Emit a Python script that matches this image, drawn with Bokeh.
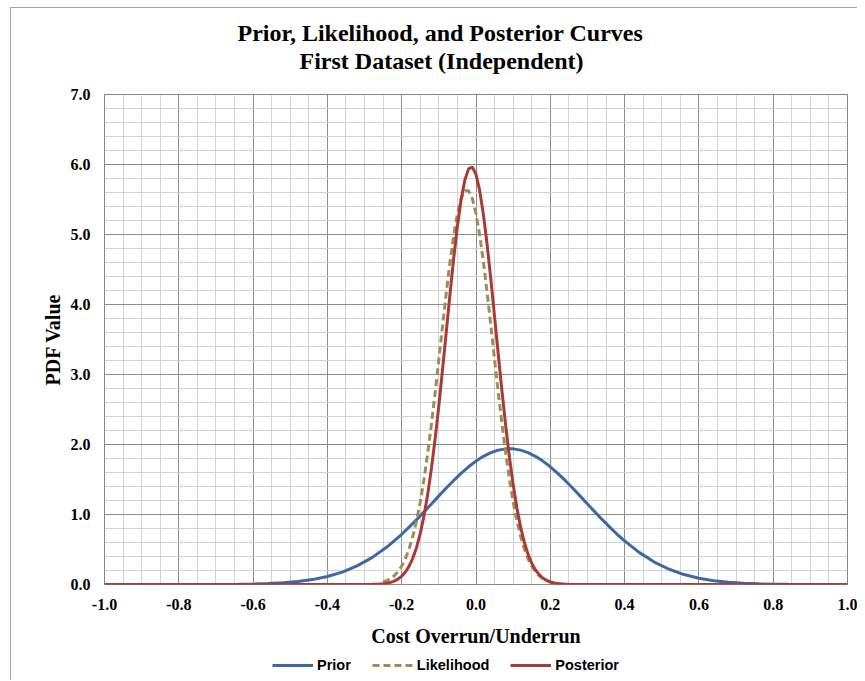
from bokeh.plotting import figure
from bokeh.layouts import column
from bokeh.models import (Range1d, FixedTicker, Legend, LegendItem, Title,
                          CustomJSTickFormatter)
from bokeh.embed import file_html
from bokeh.resources import INLINE
import numpy as np

# ---------------- data ----------------
prior_x = [-1.00, -0.96, -0.92, -0.88, -0.84, -0.80, -0.76, -0.72, -0.68, -0.64,
           -0.60, -0.56, -0.52, -0.48, -0.44, -0.40, -0.36, -0.32, -0.28, -0.24,
           -0.20, -0.18, -0.16, -0.14, -0.12, -0.10, -0.08, -0.06, -0.04, -0.02,
           0.00, 0.02, 0.04, 0.06, 0.08, 0.09, 0.10, 0.12, 0.14, 0.16, 0.18,
           0.20, 0.22, 0.24, 0.26, 0.28, 0.30, 0.32, 0.34, 0.36, 0.38,
           0.40, 0.44, 0.48, 0.52, 0.56,
           0.60, 0.64, 0.68, 0.72, 0.76, 0.80, 0.84, 0.88, 0.92, 0.96, 1.00]
prior_y = [0.0000, 0.0000, 0.0000, 0.0000, 0.0001, 0.0002, 0.0004, 0.0008, 0.0017, 0.0036,
           0.0069, 0.0131, 0.0238, 0.0416, 0.0699, 0.1134, 0.1769, 0.2658, 0.3843, 0.5351,
           0.7174, 0.8191, 0.9262, 1.0377, 1.1514, 1.2659, 1.3782, 1.4866, 1.5885, 1.6814,
           1.7627, 1.8308, 1.8835, 1.9194, 1.9377, 1.9400, 1.9377, 1.9194, 1.8835, 1.8308, 1.7627,
           1.6814, 1.5885, 1.4866, 1.3782, 1.2659, 1.1514, 1.0377, 0.9262, 0.8191, 0.7174,
           0.6225, 0.4555, 0.3209, 0.2177, 0.1422,
           0.0895, 0.0542, 0.0316, 0.0177, 0.0096, 0.0050, 0.0025, 0.0012, 0.0006, 0.0003, 0.0001]

likelihood_x = [-0.25, -0.24, -0.23, -0.22, -0.21, -0.20, -0.19, -0.18, -0.17, -0.16,
                -0.15, -0.14, -0.13, -0.12, -0.11, -0.10, -0.09, -0.08, -0.07, -0.06,
                -0.05, -0.04, -0.03, -0.02, -0.01, 0.00, 0.01, 0.02, 0.03, 0.04,
                0.05, 0.06, 0.07, 0.08, 0.09, 0.10, 0.11, 0.12, 0.13, 0.14,
                0.15, 0.16, 0.17, 0.18, 0.19, 0.20, 0.21, 0.22, 0.23, 0.24, 0.25]
likelihood_y = [0.0357, 0.0555, 0.0844, 0.1259, 0.1840, 0.2638, 0.3706, 0.5104, 0.6890, 0.9117,
                1.1822, 1.5029, 1.8730, 2.2872, 2.7381, 3.2137, 3.6965, 4.1680, 4.6062, 4.9897,
                5.2982, 5.5148, 5.6259, 5.6259, 5.5148, 5.2982, 4.9897, 4.6062, 4.1680, 3.6965,
                3.2137, 2.7381, 2.2872, 1.8730, 1.5029, 1.1822, 0.9117, 0.6890, 0.5104, 0.3706,
                0.2638, 0.1840, 0.1259, 0.0844, 0.0555, 0.0357, 0.0226, 0.0139, 0.0085, 0.0050, 0.0029]

posterior_x = [-1.00, -0.30, -0.29, -0.28, -0.27, -0.26, -0.25, -0.24, -0.23, -0.22, -0.21,
               -0.20, -0.19, -0.18, -0.17, -0.16, -0.15, -0.14, -0.13, -0.12, -0.11,
               -0.10, -0.09, -0.08, -0.07, -0.06, -0.05, -0.04, -0.03, -0.02, -0.01,
               0.00, 0.01, 0.02, 0.03, 0.04, 0.05, 0.06, 0.07, 0.08, 0.09,
               0.10, 0.11, 0.12, 0.13, 0.14, 0.15, 0.16, 0.17, 0.18, 0.19,
               0.20, 0.21, 0.22, 0.23, 0.24, 0.25, 0.26, 0.27, 0.28, 0.29, 0.30, 1.00]
posterior_y = [0.0000, 0.0006, 0.0011, 0.0020, 0.0036, 0.0064, 0.0110, 0.0185, 0.0305, 0.0491, 0.0772,
               0.1188, 0.1785, 0.2623, 0.3771, 0.5302, 0.7290, 0.9797, 1.2877, 1.6549, 2.0805,
               2.5564, 3.0722, 3.6101, 4.1480, 4.6608, 5.1211, 5.5020, 5.7796, 5.9372, 5.9640,
               5.8583, 5.6261, 5.2840, 4.8530, 4.3581, 3.8268, 3.2859, 2.7587, 2.2650, 1.8185,
               1.4274, 1.0961, 0.8227, 0.6036, 0.4334, 0.3041, 0.2087, 0.1401, 0.0919, 0.0590,
               0.0370, 0.0227, 0.0136, 0.0080, 0.0046, 0.0026, 0.0014, 0.0008, 0.0004, 0.0002, 0.0001, 0.0000]

x_ticks = [-1.0, -0.8, -0.6, -0.4, -0.2, 0.0, 0.2, 0.4, 0.6, 0.8, 1.0]
y_ticks = [0, 1, 2, 3, 4, 5, 6, 7]
title_line1 = "Prior, Likelihood, and Posterior Curves"
title_line2 = "First Dataset (Independent)"
x_label = "Cost Overrun/Underrun"
y_label = "PDF Value"
series_names = ["Prior", "Likelihood", "Posterior"]

# ---------------- styling ----------------
C_PRIOR = "#3d69a3"
C_LIKE = "#9a8f56"
C_POST = "#a83a37"
SERIF = "Liberation Serif"
SANS = "Liberation Sans"
STYLES = [dict(line_color=C_PRIOR, line_width=3),
          dict(line_color=C_LIKE, line_width=3, line_dash="7 4"),
          dict(line_color=C_POST, line_width=3)]
SERIES = [(prior_x, prior_y), (likelihood_x, likelihood_y), (posterior_x, posterior_y)]

p = figure(width=846, height=648, output_backend="svg", toolbar_location=None,
           x_range=Range1d(-1.0, 1.0), y_range=Range1d(0.0, 7.0),
           min_border_left=93, min_border_right=10, min_border_top=86, min_border_bottom=72,
           background_fill_color="white", border_fill_color="white")
p.title.visible = False

spacer = Title(text=" ", text_font_size="10px", standoff=8)
t2 = Title(text=title_line2, align="left", offset=195, text_font=SERIF,
           text_font_size="24px", text_font_style="bold", text_color="black", standoff=0)
t1 = Title(text=title_line1, align="left", offset=133, text_font=SERIF,
           text_font_size="24px", text_font_style="bold", text_color="black", standoff=0)
p.add_layout(spacer, "above")
p.add_layout(t2, "above")
p.add_layout(t1, "above")

p.outline_line_color = "#868686"
p.outline_line_width = 1

minor_x = [v for v in np.round(np.arange(-1.0, 1.0001, 0.05), 2) if round(v * 5, 6) != round(v * 5)]
minor_y = [v for v in np.round(np.arange(0.0, 7.0001, 0.2), 1) if abs(v - round(v)) > 1e-6]

p.xaxis.ticker = FixedTicker(ticks=x_ticks, minor_ticks=minor_x)
p.yaxis.ticker = FixedTicker(ticks=y_ticks, minor_ticks=minor_y)
p.xgrid.ticker = FixedTicker(ticks=x_ticks, minor_ticks=minor_x)
p.ygrid.ticker = FixedTicker(ticks=y_ticks, minor_ticks=minor_y)
for g in (p.xgrid, p.ygrid):
    g.grid_line_color = "#8c8c8c"
    g.grid_line_width = 1
    g.minor_grid_line_color = "#d2d2d2"
    g.minor_grid_line_width = 1

fmt = CustomJSTickFormatter(code="return tick.toFixed(1);")
for ax in (p.xaxis[0], p.yaxis[0]):
    ax.formatter = fmt
    ax.axis_line_color = None
    ax.major_tick_line_color = None
    ax.minor_tick_line_color = None
    ax.major_tick_out = 0
    ax.major_tick_in = 0
    ax.minor_tick_out = 0
    ax.minor_tick_in = 0
    ax.major_label_text_font = SERIF
    ax.major_label_text_font_size = "16px"
    ax.major_label_text_font_style = "bold"
    ax.major_label_text_color = "black"
    ax.axis_label_text_font = SERIF
    ax.axis_label_text_font_size = "20px"
    ax.axis_label_text_font_style = "bold"
    ax.axis_label_text_color = "black"

p.xaxis.axis_label = x_label
p.yaxis.axis_label = y_label
p.xaxis.major_label_standoff = 14
p.yaxis.major_label_standoff = 14
p.xaxis.axis_label_standoff = 12
p.yaxis.axis_label_standoff = 4

for (xs, ys), s in zip(SERIES, STYLES):
    p.line(xs, ys, **s)

# legend strip below the chart: same series and styles, drawn outside the
# strip's (invisible) view so that only the legend keys show
p2 = figure(width=846, height=24, output_backend="svg", toolbar_location=None,
            x_range=Range1d(-1.0, 1.0), y_range=Range1d(50.0, 51.0),
            x_axis_type=None, y_axis_type=None,
            min_border_left=0, min_border_right=0, min_border_top=0, min_border_bottom=0,
            background_fill_color="white", border_fill_color="white")
p2.title.visible = False
p2.outline_line_color = None
p2.xgrid.visible = False
p2.ygrid.visible = False
leg_renderers = [p2.line(xs, ys, **s) for (xs, ys), s in zip(SERIES, STYLES)]

legend = Legend(items=[LegendItem(label=n, renderers=[r]) for n, r in zip(series_names, leg_renderers)],
                orientation="horizontal", location=(168, 7),
                label_text_font=SANS, label_text_font_size="14.5px",
                label_text_font_style="bold", label_text_color="black",
                glyph_width=41, glyph_height=16, label_height=16, label_standoff=4,
                spacing=21, padding=0, margin=0,
                border_line_color=None, background_fill_alpha=0)
p2.add_layout(legend, "center")

layout = column(p, p2, spacing=0)
layout.styles = {"margin-left": "10px", "margin-top": "7px",
                 "border-left": "1px solid #a6a6a6", "border-top": "1px solid #a6a6a6"}

open("out.html", "w").write(file_html(layout, INLINE))
